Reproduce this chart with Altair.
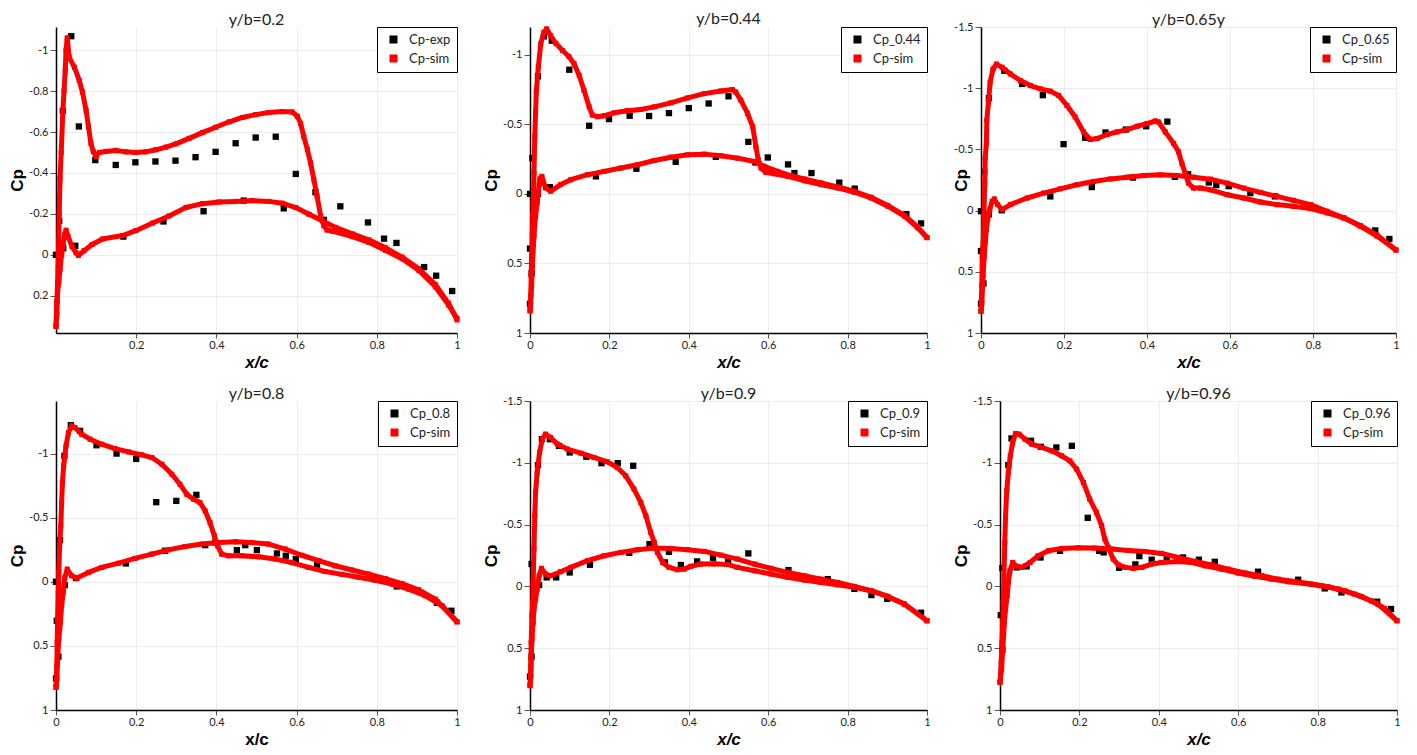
import altair as alt
import pandas as pd

# ---------------- data ----------------
titles = ["y/b=0.2", "y/b=0.44", "y/b=0.65y", "y/b=0.8", "y/b=0.9", "y/b=0.96"]
exp_labels = ["Cp-exp", "Cp_0.44", "Cp_0.65", "Cp_0.8", "Cp_0.9", "Cp_0.96"]
sim_label = "Cp-sim"

# panel 1 : y/b = 0.2
exp1_x = [0, 0.008, 0.018, 0.017, 0.038, 0.048, 0.057, 0.098, 0.149, 0.198, 0.248, 0.298, 0.348, 0.398, 0.448, 0.498,
          0.548, 0.598, 0.647, 0.668, 0.709, 0.778, 0.818, 0.849, 0.918, 0.948, 0.988, 0.168, 0.268, 0.368, 0.468, 0.568]
exp1_cp = [0.0, -0.166, -0.032, -0.703, -1.068, -0.044, -0.627, -0.463, -0.439, -0.452, -0.456, -0.46, -0.477, -0.503,
           -0.545, -0.573, -0.577, -0.395, -0.306, -0.171, -0.237, -0.158, -0.079, -0.058, 0.06, 0.102, 0.177, -0.089,
           -0.163, -0.213, -0.265, -0.227]
up1_x = [0, 0.002, 0.004, 0.006, 0.008, 0.010, 0.013, 0.017, 0.020, 0.023, 0.025, 0.028, 0.033, 0.046, 0.058, 0.066,
         0.075, 0.081, 0.087, 0.093, 0.100, 0.108, 0.124, 0.149, 0.174, 0.199, 0.224, 0.249, 0.274, 0.299, 0.332, 0.365,
         0.398, 0.432, 0.465, 0.498, 0.531, 0.564, 0.589, 0.602, 0.610, 0.618, 0.627, 0.635, 0.643, 0.651, 0.660, 0.668,
         0.676, 0.689, 0.739, 0.780, 0.822, 0.863, 0.905, 0.946, 0.979, 1.0]
up1_cp = [0.35, 0.23, 0.14, 0.0, -0.2, -0.37, -0.5, -0.7, -0.8, -0.9, -1.0, -1.06, -0.965, -0.916, -0.852, -0.795,
          -0.706, -0.626, -0.545, -0.505, -0.48, -0.5, -0.505, -0.51, -0.503, -0.5, -0.503, -0.513, -0.526, -0.542,
          -0.569, -0.597, -0.623, -0.65, -0.671, -0.685, -0.695, -0.7, -0.698, -0.677, -0.642, -0.577, -0.513, -0.448,
          -0.368, -0.287, -0.19, -0.142, -0.121, -0.116, -0.089, -0.061, -0.021, 0.019, 0.076, 0.156, 0.245, 0.31]
lo1_x = [0, 0.002, 0.004, 0.007, 0.010, 0.014, 0.018, 0.022, 0.025, 0.030, 0.040, 0.050, 0.056, 0.070, 0.090, 0.116,
         0.166, 0.199, 0.241, 0.282, 0.324, 0.365, 0.407, 0.448, 0.490, 0.531, 0.564, 0.598, 0.631, 0.664, 0.697, 0.739,
         0.780, 0.822, 0.863, 0.905, 0.946, 0.979, 1.0]
lo1_cp = [0.35, 0.29, 0.18, 0.13, 0.07, 0.0, -0.06, -0.1, -0.12, -0.09, -0.04, -0.01, 0.003, -0.02, -0.05, -0.077,
          -0.094, -0.118, -0.155, -0.19, -0.231, -0.25, -0.258, -0.261, -0.265, -0.261, -0.252, -0.231, -0.198, -0.166,
          -0.134, -0.102, -0.073, -0.034, 0.011, 0.068, 0.145, 0.237, 0.318]

# panel 2 : y/b = 0.44
exp2_x = [0, 0.006, 0.02, 0.035, 0.055, 0.099, 0.149, 0.199, 0.251, 0.3, 0.35, 0.4, 0.45, 0.5, 0.55, 0.568, 0.599,
          0.65, 0.666, 0.709, 0.779, 0.818, 0.948, 0.985, 0.05, 0.02, 0.0, 0.004, 0.0, 0.166, 0.268, 0.367, 0.468]
exp2_cp = [0, -0.257, -0.845, -1.133, -1.102, -0.893, -0.49, -0.538, -0.562, -0.56, -0.581, -0.617, -0.65, -0.702,
           -0.374, -0.226, -0.262, -0.212, -0.15, -0.15, -0.081, -0.038, 0.145, 0.212, -0.048, 0.0, 0.393, 0.571, 0.79,
           -0.126, -0.181, -0.231, -0.267]
up2_x = [0, 0.002, 0.003, 0.004, 0.006, 0.007, 0.008, 0.010, 0.012, 0.014, 0.016, 0.021, 0.027, 0.035, 0.042, 0.052,
         0.065, 0.082, 0.098, 0.111, 0.124, 0.136, 0.149, 0.157, 0.170, 0.187, 0.212, 0.245, 0.279, 0.313, 0.355, 0.397,
         0.439, 0.481, 0.510, 0.518, 0.531, 0.548, 0.561, 0.569, 0.575, 0.582, 0.594, 0.615, 0.649, 0.691, 0.733, 0.775,
         0.817, 0.859, 0.901, 0.943, 0.976, 1.0]
up2_cp = [0.84, 0.73, 0.59, 0.445, 0.28, 0.16, 0.064, -0.15, -0.412, -0.579, -0.74, -0.912, -1.079, -1.162, -1.186,
          -1.138, -1.083, -1.031, -0.988, -0.936, -0.852, -0.745, -0.626, -0.567, -0.555, -0.562, -0.583, -0.598,
          -0.607, -0.626, -0.655, -0.69, -0.721, -0.74, -0.75, -0.733, -0.674, -0.579, -0.483, -0.34, -0.245, -0.186,
          -0.155, -0.145, -0.126, -0.095, -0.067, -0.043, -0.012, 0.029, 0.088, 0.16, 0.243, 0.314]
lo2_x = [0, 0.004, 0.006, 0.010, 0.014, 0.018, 0.023, 0.025, 0.030, 0.039, 0.052, 0.077, 0.103, 0.145, 0.187, 0.229,
         0.271, 0.313, 0.355, 0.397, 0.439, 0.481, 0.523, 0.565, 0.590, 0.624, 0.657, 0.691, 0.733, 0.775, 0.817, 0.859,
         0.901, 0.943, 0.976, 1.0]
lo2_cp = [0.84, 0.66, 0.517, 0.302, 0.16, 0.064, -0.067, -0.11, -0.126, -0.043, -0.019, -0.067, -0.102, -0.138,
          -0.162, -0.186, -0.21, -0.24, -0.264, -0.281, -0.286, -0.274, -0.257, -0.233, -0.198, -0.162, -0.131, -0.107,
          -0.079, -0.05, -0.019, 0.024, 0.083, 0.155, 0.236, 0.314]

# panel 3 : y/b = 0.65
exp3_x = [0, 0.008, 0.019, 0.056, 0.099, 0.149, 0.199, 0.251, 0.3, 0.349, 0.398, 0.449, 0.467, 0.499, 0.549, 0.567,
          0.597, 0.649, 0.708, 0.95, 0.984, 0.019, 0.05, 0.167, 0.267, 0.366, 0.0, 0.006, 0.0]
exp3_cp = [0.005, -0.319, -0.919, -1.143, -1.035, -0.943, -0.543, -0.595, -0.638, -0.662, -0.689, -0.727, -0.276,
           -0.297, -0.23, -0.208, -0.2, -0.143, -0.116, 0.162, 0.232, 0.03, -0.003, -0.116, -0.192, -0.27, 0.33, 0.595,
           0.76]
up3_x = [0, 0.002, 0.003, 0.006, 0.007, 0.009, 0.01, 0.013, 0.014, 0.018, 0.022, 0.029, 0.037, 0.051, 0.071, 0.095,
         0.119, 0.143, 0.167, 0.187, 0.207, 0.227, 0.247, 0.263, 0.28, 0.304, 0.328, 0.352, 0.376, 0.4, 0.42, 0.428,
         0.444, 0.464, 0.476, 0.484, 0.492, 0.5, 0.512, 0.529, 0.553, 0.593, 0.633, 0.673, 0.713, 0.753, 0.794, 0.834,
         0.874, 0.914, 0.954, 1.0]
up3_cp = [0.824, 0.61, 0.37, 0.21, 0.046, -0.224, -0.427, -0.549, -0.738, -0.886, -1.049, -1.157, -1.197, -1.17,
          -1.116, -1.062, -1.022, -0.995, -0.976, -0.941, -0.859, -0.765, -0.643, -0.581, -0.589, -0.622, -0.643,
          -0.662, -0.689, -0.711, -0.732, -0.724, -0.643, -0.549, -0.481, -0.386, -0.305, -0.224, -0.184, -0.184,
          -0.17, -0.13, -0.103, -0.07, -0.049, -0.035, -0.016, 0.019, 0.059, 0.127, 0.208, 0.322]
lo3_x = [0, 0.002, 0.005, 0.008, 0.01, 0.013, 0.016, 0.021, 0.027, 0.032, 0.04, 0.051, 0.071, 0.111, 0.151, 0.191,
         0.231, 0.271, 0.312, 0.352, 0.392, 0.432, 0.472, 0.512, 0.553, 0.593, 0.633, 0.673, 0.713, 0.753, 0.794, 0.834,
         0.874, 0.914, 0.954, 1.0]
lo3_cp = [0.824, 0.749, 0.532, 0.37, 0.262, 0.154, 0.073, -0.008, -0.076, -0.095, -0.049, -0.008, -0.049, -0.103,
          -0.143, -0.178, -0.211, -0.238, -0.259, -0.273, -0.286, -0.292, -0.286, -0.273, -0.257, -0.224, -0.184,
          -0.149, -0.116, -0.084, -0.049, 0.005, 0.059, 0.122, 0.2, 0.322]

# panel 4 : y/b = 0.8
exp4_x = [0, 0.01, 0.021, 0.037, 0.06, 0.101, 0.151, 0.2, 0.25, 0.3, 0.35, 0.372, 0.397, 0.451, 0.472, 0.501, 0.551,
          0.573, 0.598, 0.651, 0.85, 0.95, 0.986, 0.002, 0.006, 0.0, 0.022, 0.05, 0.174, 0.272]
exp4_cp = [0, -0.325, -0.982, -1.221, -1.177, -1.065, -1.0, -0.958, -0.621, -0.631, -0.678, -0.286, -0.306, -0.247,
           -0.286, -0.247, -0.221, -0.203, -0.177, -0.13, 0.036, 0.164, 0.226, 0.304, 0.584, 0.753, 0.026, -0.029,
           -0.143, -0.242]
up4_x = [0, 0.002, 0.003, 0.004, 0.006, 0.007, 0.009, 0.012, 0.014, 0.016, 0.019, 0.025, 0.031, 0.039, 0.047, 0.064,
         0.085, 0.114, 0.147, 0.181, 0.214, 0.239, 0.264, 0.289, 0.309, 0.326, 0.343, 0.359, 0.372, 0.384, 0.395, 0.403,
         0.413, 0.43, 0.463, 0.505, 0.547, 0.588, 0.63, 0.671, 0.713, 0.755, 0.796, 0.838, 0.879, 0.921, 0.963, 1.0]
up4_cp = [0.823, 0.655, 0.473, 0.291, 0.083, -0.073, -0.281, -0.436, -0.618, -0.774, -0.904, -1.06, -1.164, -1.216,
          -1.203, -1.151, -1.112, -1.073, -1.039, -1.013, -0.99, -0.969, -0.917, -0.839, -0.761, -0.683, -0.644,
          -0.618, -0.553, -0.462, -0.358, -0.281, -0.216, -0.203, -0.203, -0.195, -0.177, -0.150, -0.112, -0.08,
          -0.058, -0.036, -0.012, 0.018, 0.057, 0.109, 0.187, 0.312]
lo4_x = [0, 0.002, 0.004, 0.007, 0.011, 0.014, 0.018, 0.022, 0.028, 0.039, 0.052, 0.081, 0.114, 0.156, 0.197, 0.239,
         0.28, 0.322, 0.364, 0.405, 0.447, 0.488, 0.53, 0.572, 0.613, 0.655, 0.696, 0.738, 0.78, 0.821, 0.863, 0.904,
         0.946, 1.0]
lo4_cp = [0.823, 0.758, 0.603, 0.447, 0.317, 0.187, 0.083, -0.034, -0.099, -0.047, -0.029, -0.073, -0.112, -0.145,
          -0.182, -0.216, -0.249, -0.275, -0.294, -0.306, -0.312, -0.306, -0.294, -0.255, -0.207, -0.165, -0.125,
          -0.092, -0.06, -0.025, 0.015, 0.062, 0.135, 0.312]

# panel 5 : y/b = 0.9
exp5_x = [0.0, 0.004, 0.004, 0.023, 0.02, 0.03, 0.05, 0.073, 0.1, 0.142, 0.18, 0.221, 0.26, 0.301, 0.35, 0.38, 0.421,
          0.461, 0.499, 0.55, 0.042, 0.066, 0.1, 0.151, 0.25, 0.651, 0.75, 0.985, 0.34, 0.817, 0.86, 0.9]
exp5_cp = [0.73, 0.569, -0.181, -0.011, -0.981, -1.191, -1.191, -1.137, -1.084, -1.049, -0.997, -0.997, -0.976,
           -0.342, -0.28, -0.173, -0.202, -0.232, -0.208, -0.267, -0.073, -0.073, -0.113, -0.175, -0.272, -0.132,
           -0.059, 0.213, -0.194, 0.02, 0.07, 0.1]
up5_x = [0, 0.002, 0.003, 0.005, 0.007, 0.008, 0.010, 0.012, 0.014, 0.018, 0.024, 0.031, 0.039, 0.052, 0.069, 0.094,
         0.128, 0.161, 0.195, 0.22, 0.241, 0.262, 0.279, 0.292, 0.304, 0.313, 0.321, 0.334, 0.35, 0.371, 0.388, 0.405,
         0.43, 0.464, 0.497, 0.523, 0.565, 0.607, 0.649, 0.691, 0.733, 0.775, 0.817, 0.859, 0.901, 0.943, 1.0]
up5_cp = [0.803, 0.642, 0.453, 0.237, 0.129, -0.032, -0.302, -0.571, -0.76, -0.922, -1.084, -1.191, -1.232, -1.205,
          -1.151, -1.111, -1.078, -1.043, -1.008, -0.962, -0.895, -0.787, -0.679, -0.571, -0.437, -0.356, -0.275,
          -0.194, -0.154, -0.135, -0.14, -0.162, -0.181, -0.183, -0.178, -0.154, -0.127, -0.1, -0.073, -0.051, -0.032,
          -0.013, 0.008, 0.035, 0.081, 0.143, 0.278]
lo5_x = [0, 0.002, 0.003, 0.005, 0.008, 0.01, 0.014, 0.018, 0.023, 0.029, 0.039, 0.052, 0.077, 0.103, 0.145, 0.187,
         0.229, 0.271, 0.313, 0.355, 0.397, 0.439, 0.481, 0.523, 0.565, 0.607, 0.649, 0.691, 0.733, 0.775, 0.817, 0.859,
         0.901, 0.943, 1.0]
lo5_cp = [0.803, 0.722, 0.588, 0.426, 0.291, 0.183, 0.102, 0.022, -0.086, -0.146, -0.1, -0.086, -0.119, -0.154,
          -0.208, -0.248, -0.275, -0.297, -0.31, -0.307, -0.297, -0.283, -0.253, -0.221, -0.181, -0.146, -0.113,
          -0.086, -0.059, -0.032, 0.0, 0.035, 0.081, 0.143, 0.278]

# panel 6 : y/b = 0.96
exp6_x = [0.002, 0.006, 0.006, 0.021, 0.029, 0.078, 0.103, 0.142, 0.181, 0.221, 0.25, 0.261, 0.3, 0.341, 0.351, 0.382,
          0.42, 0.461, 0.501, 0.541, 0.65, 0.751, 0.818, 0.86, 0.95, 0.985, 0.042, 0.067, 0.102, 0.151]
exp6_cp = [0.232, 0.512, -0.148, -0.981, -1.197, -1.178, -1.129, -1.124, -1.137, -0.555, -0.288, -0.275, -0.151,
           -0.178, -0.245, -0.216, -0.221, -0.234, -0.216, -0.199, -0.119, -0.054, 0.016, 0.049, 0.124, 0.183, -0.154,
           -0.162, -0.234, -0.288]
up6_x = [0.0, 0.003, 0.005, 0.007, 0.008, 0.01, 0.012, 0.014, 0.017, 0.021, 0.026, 0.032, 0.039, 0.048, 0.063, 0.08,
         0.105, 0.13, 0.155, 0.176, 0.193, 0.21, 0.226, 0.243, 0.256, 0.264, 0.273, 0.285, 0.298, 0.315, 0.336, 0.357,
         0.382, 0.407, 0.449, 0.482, 0.516, 0.558, 0.6, 0.642, 0.684, 0.726, 0.768, 0.81, 0.852, 0.893, 0.935, 0.969,
         1.0]
up6_cp = [0.776, 0.615, 0.453, 0.291, 0.129, -0.086, -0.356, -0.571, -0.774, -0.922, -1.057, -1.164, -1.237, -1.232,
          -1.191, -1.151, -1.124, -1.097, -1.057, -1.016, -0.949, -0.841, -0.706, -0.598, -0.491, -0.383, -0.315,
          -0.221, -0.175, -0.154, -0.146, -0.154, -0.181, -0.194, -0.202, -0.194, -0.167, -0.14, -0.108, -0.081,
          -0.059, -0.038, -0.024, -0.005, 0.022, 0.062, 0.116, 0.178, 0.278]
lo6_x = [0.0, 0.004, 0.007, 0.009, 0.011, 0.014, 0.018, 0.021, 0.025, 0.032, 0.042, 0.055, 0.076, 0.096, 0.122, 0.155,
         0.197, 0.239, 0.281, 0.323, 0.365, 0.407, 0.449, 0.491, 0.533, 0.575, 0.617, 0.659, 0.701, 0.742, 0.784, 0.826,
         0.868, 0.91, 0.952, 1.0]
lo6_cp = [0.776, 0.668, 0.507, 0.399, 0.291, 0.183, 0.075, -0.032, -0.127, -0.194, -0.162, -0.154, -0.194, -0.248,
          -0.288, -0.307, -0.313, -0.31, -0.302, -0.291, -0.283, -0.267, -0.234, -0.202, -0.173, -0.14, -0.108, -0.086,
          -0.059, -0.04, -0.019, 0.003, 0.035, 0.081, 0.143, 0.278]

# axis domains and tick labels
y_domains = [[-1.113, 0.382], [-1.2, 1.0], [-1.5, 1.0], [-1.41, 1.0], [-1.5, 1.0], [-1.5, 1.0]]
y_ticks = [[-1, -0.8, -0.6, -0.4, -0.2, 0, 0.2],
           [-1, -0.5, 0, 0.5, 1],
           [-1.5, -1, -0.5, 0, 0.5, 1],
           [-1, -0.5, 0, 0.5, 1],
           [-1.5, -1, -0.5, 0, 0.5, 1],
           [-1.5, -1, -0.5, 0, 0.5, 1]]
x_ticks_first = [0.2, 0.4, 0.6, 0.8, 1]
x_ticks = [0, 0.2, 0.4, 0.6, 0.8, 1]

exps = [(exp1_x, exp1_cp), (exp2_x, exp2_cp), (exp3_x, exp3_cp), (exp4_x, exp4_cp), (exp5_x, exp5_cp), (exp6_x, exp6_cp)]
ups = [(up1_x, up1_cp), (up2_x, up2_cp), (up3_x, up3_cp), (up4_x, up4_cp), (up5_x, up5_cp), (up6_x, up6_cp)]
los = [(lo1_x, lo1_cp), (lo2_x, lo2_cp), (lo3_x, lo3_cp), (lo4_x, lo4_cp), (lo5_x, lo5_cp), (lo6_x, lo6_cp)]

# ---------------- styling ----------------
widths = [401, 397, 415, 401, 397, 397]
heights = [306, 306, 306, 309, 309, 309]
title_offsets = [-1, -1, -7, -1, -7, -7]
TXT = "#222222"
RED = "#ff0000"


def panel(i):
    ex, ec = exps[i]
    ux, uc = ups[i]
    lx, lc = los[i]
    lab = exp_labels[i]
    exp_df = pd.DataFrame({"x": ex, "cp": ec, "series": lab})
    sim_df = pd.concat([
        pd.DataFrame({"x": ux, "cp": uc, "surface": "upper", "idx": list(range(len(ux)))}),
        pd.DataFrame({"x": lx, "cp": lc, "surface": "lower", "idx": list(range(len(lx)))}),
    ], ignore_index=True)
    sim_df["series"] = sim_label

    xaxis = alt.Axis(values=x_ticks_first if i == 0 else x_ticks, title="x/c",
                     titleFont="Liberation Sans", titleFontSize=17, titleFontWeight="bold",
                     titleFontStyle="normal" if i == 3 else "italic", titleColor="black", titlePadding=4,
                     labelExpr="datum.value + ''", labelFont="Lato", labelFontSize=11, labelColor=TXT,
                     labelPadding=1, tickSize=5, tickColor="#555555", domainColor="black", domainWidth=1.5,
                     grid=True, gridColor="#ececec", labelOverlap=False, labelFlush=False)
    yargs = dict(values=y_ticks[i], title="Cp",
                 titleFont="Liberation Sans", titleFontSize=17, titleFontWeight="bold", titleColor="black",
                 labelExpr="datum.value + ''", labelFont="Lato", labelFontSize=11, labelColor=TXT,
                 labelPadding=2, tickSize=6, tickColor="#555555", domainColor="black", domainWidth=1.5,
                 grid=True, gridColor="#ececec", labelOverlap=False, labelFlush=False)
    if i == 2:
        yargs.update(titleX=-11, titleY=heights[i] / 2, minExtent=28, maxExtent=28)
    else:
        yargs.update(minExtent=26, maxExtent=26, titlePadding=4)
    yaxis = alt.Axis(**yargs)

    xenc = alt.X("x:Q", scale=alt.Scale(domain=[0, 1], nice=False, zero=False), axis=xaxis)
    yenc = alt.Y("cp:Q", scale=alt.Scale(domain=y_domains[i], reverse=True, nice=False, zero=False), axis=yaxis)
    color = alt.Color("series:N",
                      scale=alt.Scale(domain=[lab, sim_label], range=["#000000", RED]),
                      legend=alt.Legend(title=None, orient="top-right", offset=0, strokeColor="black",
                                        fillColor="white", padding=6, symbolOffset=4, symbolSize=64,
                                        symbolType="square", symbolStrokeWidth=0, labelFont="Lato",
                                        labelFontSize=13, labelColor=TXT, labelOffset=9, rowPadding=5))

    exp_layer = alt.Chart(exp_df).mark_square(size=40, opacity=1).encode(x=xenc, y=yenc, color=color)
    line_layer = alt.Chart(sim_df).mark_line(strokeWidth=5, color=RED, strokeJoin="round").encode(
        x=xenc, y=yenc, detail="surface:N", order="idx:Q")
    sim_layer = alt.Chart(sim_df).mark_square(size=26, opacity=1).encode(x=xenc, y=yenc, color=color)

    return alt.layer(exp_layer, line_layer, sim_layer).properties(
        width=widths[i], height=heights[i],
        title=alt.TitleParams(titles[i], font="Lato", fontSize=16, fontWeight="normal", color=TXT,
                              anchor="middle", frame="group", offset=title_offsets[i])
    )


row1 = alt.hconcat(panel(0), panel(1), panel(2), spacing=21).resolve_scale(
    color="independent", x="independent", y="independent").resolve_legend(color="independent")
row2 = alt.hconcat(panel(3), panel(4), panel(5), spacing=21).resolve_scale(
    color="independent", x="independent", y="independent").resolve_legend(color="independent")

chart = alt.vconcat(row1, row2, spacing=15).resolve_scale(
    color="independent", x="independent", y="independent").resolve_legend(color="independent").properties(
    padding={"left": 0, "top": 3, "right": 0, "bottom": 0}, background="white"
).configure_view(stroke=None)

chart.save("out.html", embed_options={"renderer": "svg", "actions": False})
